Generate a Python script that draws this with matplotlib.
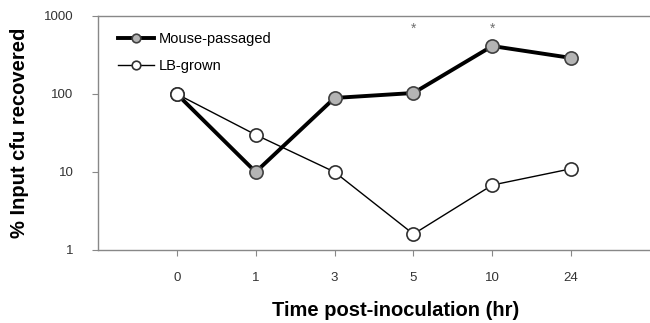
import numpy as np
import matplotlib.pyplot as plt

plt.rcParams['font.family'] = ['Liberation Sans', 'DejaVu Sans']

time_labels = ["0", "1", "3", "5", "10", "24"]
mouse_passaged = [100, 10, 89, 103, 412, 290]
lb_grown = [100, 30, 10, 1.6, 6.8, 11]
significant = ["5", "10"]

x = np.arange(len(time_labels))

fig = plt.figure(figsize=(6.5, 3.23), dpi=100)
ax = fig.add_axes([98 / 650, 1 - 250 / 323, 552 / 650, 234 / 323])

ax.plot(x, mouse_passaged, color="black", lw=2.8, marker="o", ms=9.5,
        mfc="#b4b4b4", mec="#404040", mew=1.2, label="Mouse-passaged", zorder=3)
ax.plot(x, lb_grown, color="black", lw=1.0, marker="o", ms=9.5,
        mfc="white", mec="#303030", mew=1.2, label="LB-grown", zorder=3)

# significance marks
for lab in significant:
    i = time_labels.index(lab)
    ax.text(x[i], 680, "*", ha="center", va="center", fontsize=10, color="#707070")

ax.set_yscale("log")
ax.set_ylim(1, 1000)
ax.set_xlim(-1, 6)
ax.set_yticks([1, 10, 100, 1000])
ax.set_yticklabels(["1", "10", "100", "1000"])
ax.minorticks_off()
ax.set_xticks(x)
ax.set_xticklabels(time_labels)

for side in ["left", "bottom", "top"]:
    ax.spines[side].set_color("#888888")
    ax.spines[side].set_linewidth(1.0)
ax.spines["right"].set_visible(False)
ax.tick_params(axis="both", colors="#888888", labelcolor="#333333",
               labelsize=9.5, length=4.5, width=0.8)
ax.tick_params(axis="x", pad=11)
ax.tick_params(axis="y", pad=13)

ax.set_ylabel("% Input cfu recovered", fontsize=14.5, fontweight="bold")
ax.yaxis.set_label_coords(-69 / 552, 0.5)
fig.text(396 / 650, 1 - 311 / 323, "Time post-inoculation (hr)", ha="center",
         va="center", fontsize=14.5, fontweight="bold")

ax.legend(loc="upper left", bbox_to_anchor=(14 / 552, 0.955), frameon=False,
          fontsize=10.5, handlelength=2.5, handletextpad=0.3, labelspacing=0.85,
          borderaxespad=0, markerscale=0.65)

fig.savefig("out.png", dpi=100)
